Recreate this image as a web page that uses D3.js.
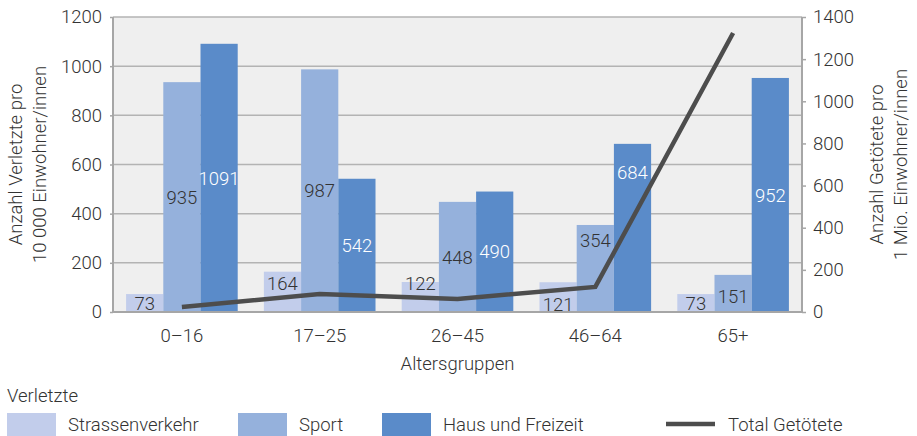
<!DOCTYPE html>
<html>
<head>
<meta charset="utf-8">
<script src="https://cdn.jsdelivr.net/npm/d3@7"></script>
<style>
  body { margin: 0; background: #fff; }
  text { font-family: Roboto, "Noto Sans", sans-serif; font-weight: 300; fill: #333; }
</style>
</head>
<body>
<div id="chart"></div>
<script>
// Verletzte pro 10 000 / Getötete pro 1 Mio. nach Altersgruppen
var groups = ["0\u201316", "17\u201325", "26\u201345", "46\u201364", "65+"];
var strassen = [73, 164, 122, 121, 73];
var sport = [935, 987, 448, 354, 151];
var haus = [1091, 542, 490, 684, 952];
var getoetete = [24, 85, 62, 119, 1324];
var leftTicks = [0, 200, 400, 600, 800, 1000, 1200];
var rightTicks = [0, 200, 400, 600, 800, 1000, 1200, 1400];

var series = [
    {name: "Strassenverkehr", values: strassen, color: "#c2cdeb", text: "#333"},
    {name: "Sport", values: sport, color: "#95b1dc", text: "#333"},
    {name: "Haus und Freizeit", values: haus, color: "#5a8bc9", text: "#fff"}
];

// label nudges (px) where the labels were moved off the line
var nudge = {"0-1": -9, "0-2": -14, "0-3": 7, "1-3": -28, "2-3": -56, "1-4": 3};

var FS = "18.5px";
var W = 917, H = 436;
var m = {left: 113, right: 802, top: 17, bottom: 312};

var svg = d3.select("#chart").append("svg")
        .attr("width", W)
        .attr("height", H);

var x0 = d3.scaleBand()
        .domain(groups)
        .range([m.left, m.right])
        .paddingInner(0.19)
        .paddingOuter(0.095);

var x1 = d3.scaleBand()
        .domain(d3.range(series.length))
        .range([0, x0.bandwidth()]);

var y = d3.scaleLinear().domain([0, 1200]).range([m.bottom, m.top]);
var y2 = d3.scaleLinear().domain([0, 1400]).range([m.bottom, m.top]);

svg.append("rect")
        .attr("x", m.left)
        .attr("y", m.top)
        .attr("width", m.right - m.left)
        .attr("height", m.bottom - m.top)
        .attr("fill", "#efefef");

// gridlines
svg.append("g")
        .selectAll("line")
        .data(leftTicks.slice(1))
        .enter()
        .append("line")
        .attr("x1", m.left)
        .attr("x2", m.right)
        .attr("y1", function (d) { return y(d); })
        .attr("y2", function (d) { return y(d); })
        .attr("stroke", "#b3b3b3")
        .attr("stroke-width", 1.5);

// bars
var grp = svg.selectAll(".grp")
        .data(groups)
        .enter()
        .append("g")
        .attr("transform", function (d) { return "translate(" + x0(d) + ",0)"; });

series.forEach(function (s, si) {
    grp.append("rect")
            .attr("x", x1(si))
            .attr("width", x1.bandwidth())
            .attr("y", function (d, i) { return y(s.values[i]); })
            .attr("height", function (d, i) { return m.bottom - y(s.values[i]); })
            .attr("fill", s.color);
});

// axes lines
svg.append("line")
        .attr("x1", m.left).attr("x2", m.left)
        .attr("y1", m.top).attr("y2", m.bottom)
        .attr("stroke", "#a6a6a6").attr("stroke-width", 2);
svg.append("line")
        .attr("x1", m.right).attr("x2", m.right)
        .attr("y1", m.top).attr("y2", m.bottom)
        .attr("stroke", "#a6a6a6").attr("stroke-width", 2);
svg.append("line")
        .attr("x1", m.left - 1).attr("x2", m.right + 1)
        .attr("y1", m.bottom).attr("y2", m.bottom)
        .attr("stroke", "#a6a6a6").attr("stroke-width", 2);

// left axis
var la = svg.append("g")
        .attr("transform", "translate(" + m.left + ",0)")
        .call(d3.axisLeft(y).tickValues(leftTicks).tickFormat(d3.format("d")).tickSize(3).tickPadding(8));
la.select(".domain").remove();
la.selectAll("line").attr("stroke", "#a6a6a6").attr("stroke-width", 1.5);
la.selectAll("text").style("font-size", FS).attr("fill", "#333");

// right axis
var ra = svg.append("g")
        .attr("transform", "translate(" + m.right + ",0)")
        .call(d3.axisRight(y2).tickValues(rightTicks).tickFormat(d3.format("d")).tickSize(4).tickPadding(7));
ra.select(".domain").remove();
ra.selectAll("line").attr("stroke", "#a6a6a6").attr("stroke-width", 1.5);
ra.selectAll("text").style("font-size", FS).attr("fill", "#333");

// x labels
svg.append("g")
        .selectAll("text")
        .data(groups)
        .enter()
        .append("text")
        .attr("x", function (d) { return x0(d) + x0.bandwidth() / 2; })
        .attr("y", 342)
        .attr("text-anchor", "middle")
        .style("font-size", FS)
        .text(function (d) { return d; });

svg.append("text")
        .attr("x", (m.left + m.right) / 2)
        .attr("y", 370)
        .attr("text-anchor", "middle")
        .style("font-size", FS)
        .text("Altersgruppen");

// line
var line = d3.line()
        .x(function (d, i) { return x0(groups[i]) + x0.bandwidth() / 2; })
        .y(function (d) { return y2(d); });

svg.append("path")
        .datum(getoetete)
        .attr("d", line)
        .attr("fill", "none")
        .attr("stroke", "#4d4d4d")
        .attr("stroke-width", 4.5);

// value labels
series.forEach(function (s, si) {
    grp.append("text")
            .attr("x", x1(si) + x1.bandwidth() / 2)
            .attr("y", function (d, i) {
                var v = s.values[i];
                var c = (y(v) + m.bottom) / 2;
                return c + (nudge[si + "-" + i] || 0);
            })
            .attr("dy", "0.36em")
            .attr("text-anchor", "middle")
            .style("font-size", FS)
            .style("fill", s.text)
            .text(function (d, i) { return s.values[i]; });
});

// axis titles
function vtitle(xc, lines) {
    var t = svg.append("text")
            .attr("transform", "translate(" + xc + "," + ((m.top + m.bottom) / 2) + ") rotate(-90)")
            .attr("text-anchor", "middle")
            .style("font-size", FS);
    lines.forEach(function (l, i) {
        t.append("tspan")
                .attr("x", 0)
                .attr("dy", i === 0 ? 0 : "1.3em")
                .text(l);
    });
}
vtitle(22, ["Anzahl Verletzte pro", "10\u00a0000 Einwohner/innen"]);
vtitle(883, ["Anzahl Getötete pro", "1 Mio. Einwohner/innen"]);

// legend
svg.append("text")
        .attr("x", 7)
        .attr("y", 402)
        .style("font-size", FS)
        .text("Verletzte");

var legX = [7, 238, 382];
series.forEach(function (s, si) {
    svg.append("rect")
            .attr("x", legX[si])
            .attr("y", 413)
            .attr("width", 49)
            .attr("height", 23)
            .attr("fill", s.color);
    svg.append("text")
            .attr("x", legX[si] + 61)
            .attr("y", 431)
            .style("font-size", FS)
            .text(s.name);
});
svg.append("line")
        .attr("x1", 666).attr("x2", 715)
        .attr("y1", 424).attr("y2", 424)
        .attr("stroke", "#4d4d4d")
        .attr("stroke-width", 4.5);
svg.append("text")
        .attr("x", 728)
        .attr("y", 431)
        .style("font-size", FS)
        .text("Total Getötete");
</script>
</body>
</html>
